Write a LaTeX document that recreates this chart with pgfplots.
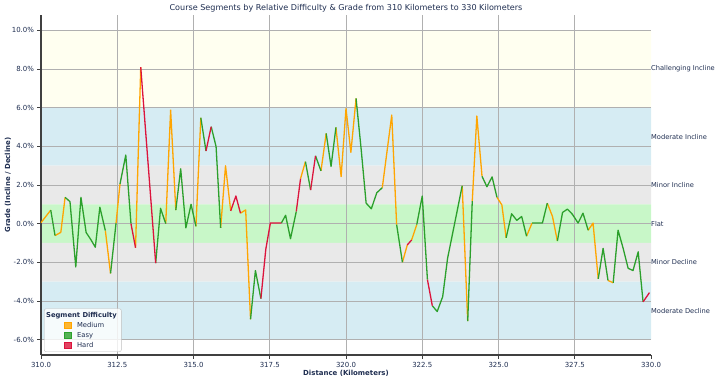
\documentclass[border=0pt]{standalone}
\usepackage{pgfplots}
\pgfplotsset{compat=1.18}
\usepackage{fontspec}
\setmainfont{DejaVu Sans}
\definecolor{navy}{RGB}{30,45,80}
\definecolor{MedC}{HTML}{FFA500}
\definecolor{EasyC}{HTML}{2CA02C}
\definecolor{HardC}{HTML}{DC143C}
\definecolor{bandY}{HTML}{FFFFF0}
\definecolor{bandB}{HTML}{D6ECF3}
\definecolor{bandG}{HTML}{E9E9E9}
\definecolor{bandL}{HTML}{C8F7C8}
\definecolor{gridc}{HTML}{B0B0B0}
\definecolor{spinec}{HTML}{404040}
\begin{document}
\begin{tikzpicture}
\begin{axis}[
  set layers=standard,
  scale only axis, width=610bp, height=340bp,
  xmin=310, xmax=330, ymin=-6.8, ymax=10.8,
  axis x line*=bottom, axis y line*=left,
  axis line style={spinec, line width=1.1bp, -},
  xtick={310,312.5,315,317.5,320,322.5,325,327.5},
  extra x ticks={330}, extra x tick style={grid=none},
  ytick={-6,-4,-2,0,2,4,6,8,10},
  grid=major, major grid style={gridc, line width=0.7bp},
  tick align=outside, major tick length=3.5bp, tick style={spinec, line width=0.8bp},
  /pgf/number format/assume math mode=true,
  xticklabel={\pgfmathprintnumber[fixed,fixed zerofill,precision=1]{\tick}},
  extra x tick label={\pgfmathprintnumber[fixed,fixed zerofill,precision=1]{\tick}},
  yticklabel={\pgfmathprintnumber[fixed,fixed zerofill,precision=1]{\tick}\%},
  ticklabel style={font=\fontsize{7}{8}\selectfont, text=navy},
  every axis title shift=0pt,
  title={Course Segments by Relative Difficulty \& Grade from 310 Kilometers to 330 Kilometers},
  title style={at={(axis description cs:0.5,1)}, anchor=base, yshift=4.5bp, font=\fontsize{8.1}{9}\selectfont, text=navy},
  xlabel={Distance (Kilometers)},
  xlabel style={at={(axis description cs:0.5,-0.0529)}, anchor=center, font=\fontsize{7}{8}\selectfont\bfseries, text=navy},
  ylabel={Grade (Incline / Decline)},
  ylabel style={at={(axis description cs:-0.0541,0.5)}, anchor=center, font=\fontsize{7}{8}\selectfont\bfseries, text=navy},
  clip=false,
  legend style={at={(axis description cs:0.005,0.009)}, anchor=south west,
    draw=gridc!80, fill=white, fill opacity=0.8, text opacity=1, rounded corners=2bp,
    font=\fontsize{6.8}{8}\selectfont, text=navy, inner xsep=3.5bp, inner ysep=2bp,
    row sep=1bp, nodes={inner sep=1bp, text height=5.5bp, text depth=1.5bp}},
  legend cell align=left,
]
% background bands
\addplot[fill=bandY, draw=none, on layer=axis background, forget plot] coordinates {(310,6) (330,6) (330,10) (310,10) (310,6)};
\addplot[fill=bandB, draw=none, on layer=axis background, forget plot] coordinates {(310,3) (330,3) (330,6) (310,6) (310,3)};
\addplot[fill=bandG, draw=none, on layer=axis background, forget plot] coordinates {(310,1) (330,1) (330,3) (310,3) (310,1)};
\addplot[fill=bandL, draw=none, on layer=axis background, forget plot] coordinates {(310,-1) (330,-1) (330,1) (310,1) (310,-1)};
\addplot[fill=bandG, draw=none, on layer=axis background, forget plot] coordinates {(310,-3) (330,-3) (330,-1) (310,-1) (310,-3)};
\addplot[fill=bandB, draw=none, on layer=axis background, forget plot] coordinates {(310,-6) (330,-6) (330,-3) (310,-3) (310,-6)};

% Medium segments
\addplot[MedC, line width=1.3bp, line join=round, unbounded coords=jump, forget plot] coordinates {
(310.00,0.05)(310.32,0.70)(310.32,nan)
(310.46,-0.62)(310.65,-0.45)(310.79,1.36)(310.79,nan)
(312.11,-0.36)(312.28,-2.58)(312.28,nan)
(312.46,0.02)(312.59,2.05)(312.59,nan)
(313.10,-1.25)(313.27,8.10)(313.27,nan)
(314.09,0.00)(314.25,5.88)(314.42,0.70)(314.42,nan)
(315.08,-0.14)(315.24,5.48)(315.24,nan)
(315.89,-0.22)(316.05,2.99)(316.22,0.66)(316.22,nan)
(316.54,0.54)(316.71,0.71)(316.87,-4.95)(316.87,nan)
(318.51,2.33)(318.67,3.21)(318.67,nan)
(319.18,2.73)(319.35,4.67)(319.35,nan)
(319.67,4.98)(319.84,2.44)(320.00,5.96)(320.16,3.69)(320.33,6.48)(320.33,nan)
(321.19,1.86)(321.50,5.62)(321.66,-0.05)(321.66,nan)
(321.85,-2.00)(322.01,-1.10)(322.01,nan)
(322.15,-0.85)(322.32,-0.05)(322.32,nan)
(323.81,1.96)(323.99,-5.05)(323.99,nan)
(324.14,1.17)(324.29,5.57)(324.46,2.45)(324.46,nan)
(324.95,1.36)(325.11,0.97)(325.25,-0.73)(325.25,nan)
(325.92,-0.65)(326.10,0.03)(326.10,nan)
(326.60,1.06)(326.77,0.37)(326.93,-0.90)(326.93,nan)
(327.94,-0.34)(328.10,0.03)(328.27,-2.86)(328.27,nan)
(328.59,-2.94)(328.76,-3.06)
};
% Easy segments
\addplot[EasyC, line width=1.3bp, line join=round, unbounded coords=jump, forget plot] coordinates {
(310.32,0.70)(310.46,-0.62)(310.46,nan)
(310.79,1.36)(310.95,1.14)(311.14,-2.24)(311.31,1.36)(311.48,-0.46)(311.64,-0.84)(311.78,-1.22)(311.93,0.85)(312.11,-0.36)(312.11,nan)
(312.28,-2.58)(312.46,0.02)(312.46,nan)
(312.59,2.05)(312.78,3.55)(312.95,0.00)(312.95,nan)
(313.76,-2.04)(313.92,0.79)(314.09,0.00)(314.09,nan)
(314.42,0.70)(314.58,2.84)(314.75,-0.22)(314.92,1.00)(315.08,-0.14)(315.08,nan)
(315.24,5.48)(315.41,3.76)(315.41,nan)
(315.58,5.02)(315.74,3.99)(315.89,-0.22)(315.89,nan)
(316.87,-4.95)(317.03,-2.43)(317.21,-3.88)(317.21,nan)
(317.88,0.03)(318.02,0.43)(318.18,-0.78)(318.37,0.63)(318.37,nan)
(318.67,3.21)(318.84,1.74)(318.84,nan)
(319.00,3.51)(319.18,2.73)(319.18,nan)
(319.35,4.67)(319.51,2.96)(319.67,4.98)(319.67,nan)
(320.33,6.48)(320.50,3.80)(320.66,1.06)(320.83,0.77)(321.01,1.60)(321.19,1.86)(321.19,nan)
(321.66,-0.05)(321.85,-2.00)(321.85,nan)
(322.32,-0.05)(322.50,1.43)(322.67,-2.90)(322.67,nan)
(322.83,-4.25)(322.99,-4.55)(323.17,-3.78)(323.33,-1.80)(323.49,-0.55)(323.65,0.70)(323.81,1.96)(323.81,nan)
(323.99,-5.05)(324.14,1.17)(324.14,nan)
(324.46,2.45)(324.62,1.91)(324.79,2.42)(324.95,1.36)(324.95,nan)
(325.25,-0.73)(325.43,0.51)(325.60,0.17)(325.76,0.37)(325.92,-0.65)(325.92,nan)
(326.10,0.03)(326.27,0.03)(326.44,0.03)(326.60,1.06)(326.60,nan)
(326.93,-0.90)(327.10,0.58)(327.26,0.75)(327.42,0.49)(327.61,0.03)(327.77,0.54)(327.94,-0.34)(327.94,nan)
(328.27,-2.86)(328.43,-1.28)(328.59,-2.94)(328.59,nan)
(328.76,-3.06)(328.92,-0.34)(329.08,-1.24)(329.25,-2.31)(329.41,-2.43)(329.58,-1.46)(329.74,-4.05)
};
% Hard segments
\addplot[HardC, line width=1.3bp, line join=round, unbounded coords=jump, forget plot] coordinates {
(312.95,0.00)(313.10,-1.25)(313.10,nan)
(313.27,8.10)(313.76,-2.04)(313.76,nan)
(315.41,3.76)(315.58,5.02)(315.58,nan)
(316.22,0.66)(316.39,1.43)(316.54,0.54)(316.54,nan)
(317.21,-3.88)(317.37,-1.33)(317.52,0.03)(317.70,0.03)(317.88,0.03)(317.88,nan)
(318.37,0.63)(318.51,2.33)(318.51,nan)
(318.84,1.74)(319.00,3.51)(319.00,nan)
(322.01,-1.10)(322.15,-0.85)(322.15,nan)
(322.67,-2.90)(322.83,-4.25)(322.83,nan)
(329.74,-4.05)(329.95,-3.57)
};

\addlegendimage{empty legend}
\addlegendentry{\hspace*{-31bp}\textbf{Segment Difficulty}}
\addlegendimage{legend image code/.code={\path (0bp,0bp) (28bp,0bp); \fill[MedC, sharp corners] (16bp,-3.4bp) rectangle (22.8bp,3.4bp);}}
\addlegendentry{Medium}
\addlegendimage{legend image code/.code={\path (0bp,0bp) (28bp,0bp); \fill[EasyC, sharp corners] (16bp,-3.4bp) rectangle (22.8bp,3.4bp);}}
\addlegendentry{Easy}
\addlegendimage{legend image code/.code={\path (0bp,0bp) (28bp,0bp); \fill[HardC, sharp corners] (16bp,-3.4bp) rectangle (22.8bp,3.4bp);}}
\addlegendentry{Hard}

\node[anchor=west, inner sep=0pt, font=\fontsize{6.7}{8}\selectfont, text=navy] at (axis cs:330,8) {Challenging Incline};
\node[anchor=west, inner sep=0pt, font=\fontsize{6.7}{8}\selectfont, text=navy] at (axis cs:330,4.5) {Moderate Incline};
\node[anchor=west, inner sep=0pt, font=\fontsize{6.7}{8}\selectfont, text=navy] at (axis cs:330,2) {Minor Incline};
\node[anchor=west, inner sep=0pt, font=\fontsize{6.7}{8}\selectfont, text=navy] at (axis cs:330,0) {Flat};
\node[anchor=west, inner sep=0pt, font=\fontsize{6.7}{8}\selectfont, text=navy] at (axis cs:330,-2) {Minor Decline};
\node[anchor=west, inner sep=0pt, font=\fontsize{6.7}{8}\selectfont, text=navy] at (axis cs:330,-4.5) {Moderate Decline};
\end{axis}
\pgfresetboundingbox
\path[use as bounding box] (-41bp,-27bp) rectangle (679bp,355bp);
\end{tikzpicture}
\end{document}
